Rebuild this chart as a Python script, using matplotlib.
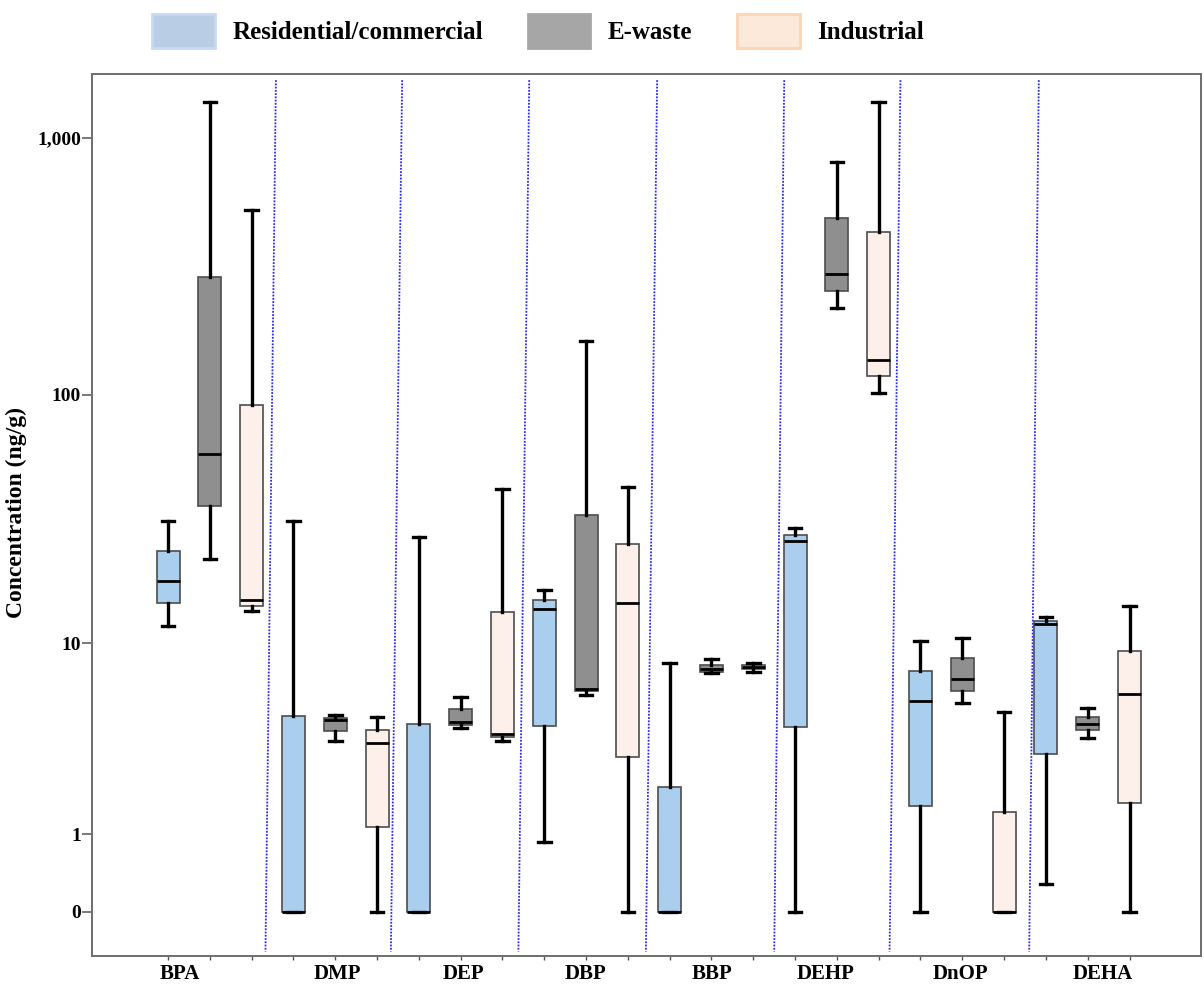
import numpy as np
import matplotlib
matplotlib.use("Agg")
import matplotlib.pyplot as plt
from matplotlib.patches import Patch
from matplotlib.ticker import FixedLocator, NullFormatter

plt.rcParams['font.family'] = ['Liberation Serif', 'DejaVu Serif']
plt.rcParams['font.weight'] = 'bold'

# Compounds and sampling sites
categories = ["BPA", "DMP", "DEP", "DBP", "BBP", "DEHP", "DnOP", "DEHA"]
groups = ["Residential/commercial", "E-waste", "Industrial"]

# Box statistics per site (ng/g): lower whisker, Q1, median, Q3, upper whisker
res_lo = [11.8, 0, 0, 0.87, 0, 0, 0, 0.28]
res_q1 = [14.7, 0, 0, 4.27, 0, 4.23, 1.57, 3.1]
res_med = [18.1, 0, 0, 13.9, 0, 26.4, 5.59, 12.07]
res_q3 = [24.1, 4.75, 4.34, 15.2, 2.04, 27.9, 7.59, 12.46]
res_hi = [31.9, 31.9, 27.3, 16.7, 8.25, 29.7, 10.2, 12.95]

ew_lo = [22.3, 3.61, 4.15, 5.93, 7.45, 219, 5.47, 3.74]
ew_q1 = [36.6, 4.04, 4.31, 6.2, 7.49, 254, 6.21, 4.07]
ew_med = [58.4, 4.55, 4.43, 6.3, 7.73, 295, 7.02, 4.33]
ew_q3 = [287, 4.63, 5.10, 33.6, 8.06, 490, 8.62, 4.71]
ew_hi = [1382, 4.80, 5.83, 162, 8.53, 808, 10.5, 5.15]

ind_lo = [13.7, 0, 3.61, 0, 7.54, 102, 0, 0]
ind_q1 = [14.3, 1.14, 3.75, 2.98, 7.73, 118.5, 0, 1.64]
ind_med = [15.2, 3.53, 3.88, 14.8, 7.93, 137, 0, 5.97]
ind_q3 = [91.3, 4.07, 13.6, 25.6, 8.06, 432, 1.44, 9.30]
ind_hi = [525, 4.71, 42.5, 43.5, 8.19, 1373, 4.98, 14.35]

y_ticks = [0, 1, 10, 100, 1000]
y_tick_labels = ["0", "1", "10", "100", "1,000"]

box_colors = ["#aacfee", "#8f8f8f", "#fdf0ea"]
legend_faces = ["#b9cde5", "#a6a6a6", "#fde9d9"]
legend_edges = ["#c6d9f0", "#a6a6a6", "#fbd4b4"]

site_stats = [
    (res_lo, res_q1, res_med, res_q3, res_hi),
    (ew_lo, ew_q1, ew_med, ew_q3, ew_hi),
    (ind_lo, ind_q1, ind_med, ind_q3, ind_hi),
]


def fwd(v):
    v = np.asarray(v, dtype=float)
    return np.log10(np.maximum(v + 1.0, 1e-12))


def inv(u):
    return 10.0 ** np.asarray(u, dtype=float) - 1.0


fig = plt.figure(figsize=(12.04, 9.88), dpi=100)
ax = fig.add_axes([0.0764, 0.0324, 0.9211, 0.8927])
ax.set_yscale('function', functions=(fwd, inv))

n_groups = len(groups)
for g, (lo, q1, med, q3, hi) in enumerate(site_stats):
    stats = []
    positions = []
    for c in range(len(categories)):
        stats.append(dict(whislo=lo[c], q1=q1[c], med=med[c], q3=q3[c],
                          whishi=hi[c], fliers=[]))
        positions.append(n_groups * c + g)
    ax.bxp(stats, positions=positions, widths=0.55, capwidths=0.3,
           showfliers=False, patch_artist=True, manage_ticks=False,
           boxprops=dict(facecolor=box_colors[g], edgecolor="#4d4d4d",
                         linewidth=1.2),
           whiskerprops=dict(color="black", linewidth=2.4),
           capprops=dict(color="black", linewidth=2.4),
           medianprops=dict(color="black", linewidth=2.0))

# Dotted separators between compounds
sep_top = [0.08, 0.1, 0.14, 0.2, 0.24, 0.02, 0.33]
sep_bot = [-0.17, -0.17, -0.12, -0.07, 0.0, -0.24, 0.1]
xt = ax.get_xaxis_transform()
for i in range(len(categories) - 1):
    b = n_groups * (i + 1) - 0.5
    ax.plot([b + sep_top[i], b + sep_bot[i]], [0.993, 0.005],
            transform=xt, color="#2a2aff", linestyle=(0, (1, 0.8)),
            linewidth=1.3, zorder=1)

ax.set_xlim(-1.82, 24.71)
ax.set_ylim(-0.325, 1770)

ax.yaxis.set_major_locator(FixedLocator(y_ticks))
ax.set_yticklabels(y_tick_labels)
ax.yaxis.set_minor_locator(FixedLocator([]))
ax.tick_params(axis='y', which='major', length=7, width=1.1,
               color="#555555", labelsize=14, pad=1)

# Compound labels under each group
label_shift = [-0.71, 0.04, 0.06, -0.02, 0.01, -0.28, -0.05, 0.37]
label_pos = [n_groups * c + 1 + label_shift[c] for c in range(len(categories))]
ax.xaxis.set_major_locator(FixedLocator(label_pos))
ax.set_xticklabels(categories)
ax.xaxis.set_minor_locator(FixedLocator(list(range(n_groups * len(categories)))))
ax.xaxis.set_minor_formatter(NullFormatter())
ax.tick_params(axis='x', which='major', length=0, labelsize=15, pad=6)
ax.tick_params(axis='x', which='minor', length=3, width=1.0, color="#555555")

for sp in ax.spines.values():
    sp.set_color("#6e6e6e")
    sp.set_linewidth(1.4)

ax.set_ylabel("Concentration (ng/g)", fontsize=17, fontweight='bold')
ax.yaxis.set_label_coords(-0.059, 0.503)

handles = [Patch(facecolor=legend_faces[i], edgecolor=legend_edges[i],
                 linewidth=2, label=groups[i]) for i in range(n_groups)]
fig.legend(handles=handles, loc='center', bbox_to_anchor=(0.447, 0.969),
           ncol=3, frameon=False, handlelength=2.5,
           handleheight=1.7, handletextpad=0.7, columnspacing=1.8,
           prop=dict(weight='bold', size=18))

fig.savefig("out.png", dpi=100)
